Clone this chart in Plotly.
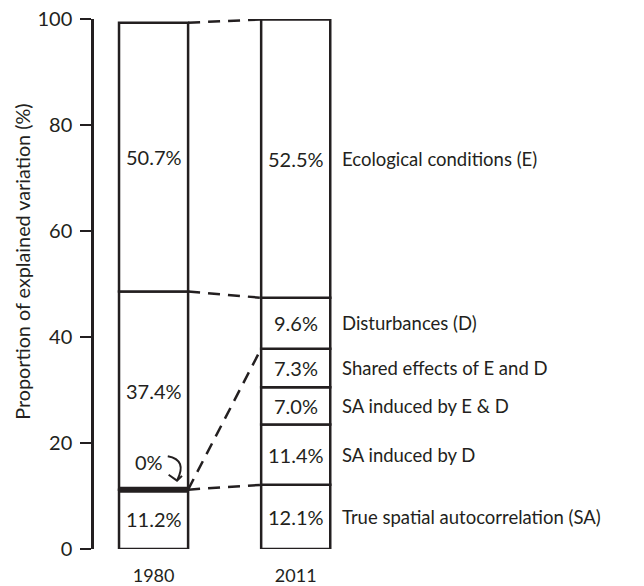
import plotly.graph_objects as go

# ---------------- data ----------------
years = ["1980", "2011"]
components_2011 = [
    "True spatial autocorrelation (SA)",
    "SA induced by D",
    "SA induced by E & D",
    "Shared effects of E and D",
    "Disturbances (D)",
    "Ecological conditions (E)",
]
# 1980 partition, bottom to top: SA, (SA induced by E&D = 0%), D-related, E
vals_1980 = [11.2, 0.0, 37.4, 50.7]
labels_1980 = ["11.2%", "0%", "37.4%", "50.7%"]
# 2011 partition, bottom to top
vals_2011 = [12.1, 11.4, 7.0, 7.3, 9.6, 52.5]
labels_2011 = ["12.1%", "11.4%", "7.0%", "7.3%", "9.6%", "52.5%"]
y_ticks = [0, 20, 40, 60, 80, 100]
y_title = "Proportion of explained variation (%)"

# ---------------- style ----------------
DARK = "#231f20"
FONT = "Lato"
FS_NUM = 20
FS_TXT = 18.5
FS_TITLE = 19.8
W = 0.486          # bar width (x units)
X0, X1 = 0, 1      # bar positions
LW = 2.5
DASH = "12px,8px"
ML, MR, MT, MB = 94, 64, 19, 37
FIG_W, FIG_H = 644, 586


def bases(vals):
    out, c = [], 0.0
    for v in vals:
        out.append(c)
        c += v
    return out


b80 = bases(vals_1980)
b11 = bases(vals_2011)
top80 = b80[-1] + vals_1980[-1]
top11 = b11[-1] + vals_2011[-1]

fig = go.Figure()

# bars (white boxes with outlines), zero-height segment drawn separately
for x, vals, bs in [(X0, vals_1980, b80), (X1, vals_2011, b11)]:
    nz = [(v, b) for v, b in zip(vals, bs) if v > 0]
    fig.add_trace(go.Bar(
        x=[x] * len(nz), y=[v for v, _ in nz], base=[b for _, b in nz],
        width=W, marker=dict(color="white", line=dict(color=DARK, width=LW)),
        cliponaxis=False, showlegend=False, hoverinfo="skip"))

# thick line for the 0% segment in 1980
zero_idx = vals_1980.index(0.0)
yz = b80[zero_idx]
fig.add_trace(go.Scatter(
    x=[X0 - W / 2, X0 + W / 2], y=[yz, yz], mode="lines",
    line=dict(color=DARK, width=6), cliponaxis=False,
    showlegend=False, hoverinfo="skip"))

# dashed connectors between the bars
xa, xb = X0 + W / 2, X1 - W / 2
connectors = [
    (top80, top11),                      # top
    (b80[3], b11[5]),                    # E boundary
    (yz, b11[4]),                        # D-related block -> shared/ D boundary
    (b80[1], b11[1]),                    # SA boundary
]
for ya, yb in connectors:
    fig.add_trace(go.Scatter(
        x=[xa, xb], y=[ya, yb], mode="lines",
        line=dict(color=DARK, width=LW, dash=DASH), cliponaxis=False,
        showlegend=False, hoverinfo="skip"))

annotations = []
# labels inside 1980 bar
for v, b, lab in zip(vals_1980, b80, labels_1980):
    if v == 0:
        continue
    annotations.append(dict(x=X0, y=b + v / 2, text=lab, showarrow=False,
                            xref="x", yref="y",
                            font=dict(family=FONT, size=FS_NUM, color=DARK)))
# 0% label above the thick line
annotations.append(dict(x=X0 - 0.03, y=yz + 5.3, text=labels_1980[zero_idx],
                        showarrow=False, xref="x", yref="y",
                        font=dict(family=FONT, size=FS_NUM, color=DARK)))
# labels inside 2011 bar and component names to the right
for v, b, lab, comp in zip(vals_2011, b11, labels_2011, components_2011):
    annotations.append(dict(x=X1, y=b + v / 2, text=lab, showarrow=False,
                            xref="x", yref="y",
                            font=dict(family=FONT, size=FS_NUM, color=DARK)))
    annotations.append(dict(x=X1 + W / 2, y=b + v / 2, text=comp, showarrow=False,
                            xref="x", yref="y", xanchor="left", xshift=10,
                            font=dict(family=FONT, size=FS_TXT, color=DARK)))

# y-axis title as rotated annotation
plot_w = FIG_W - ML - MR
annotations.append(dict(x=(22 - ML) / plot_w, xref="paper", y=54.2, yref="y",
                        text=y_title, textangle=-90, showarrow=False,
                        xanchor="center", yanchor="middle",
                        font=dict(family=FONT, size=FS_TITLE, color=DARK)))

# curved arrow from "0%" to the thick line
tipx, tipy = X0 + 0.165, yz + 1.7
shapes = [
    dict(type="path", xref="x", yref="y",
         path=f"M {X0 + 0.10},{yz + 6.3} Q {X0 + 0.24},{yz + 5.6} {tipx},{tipy}",
         line=dict(color=DARK, width=2)),
    dict(type="path", xref="x", yref="y",
         path=f"M {tipx - 0.059},{tipy + 1.1} L {tipx},{tipy} L {tipx + 0.035},{tipy + 0.9}",
         line=dict(color=DARK, width=2)),
]

fig.update_layout(
    width=FIG_W, height=FIG_H,
    margin=dict(l=ML, r=MR, t=MT, b=MB),
    paper_bgcolor="white", plot_bgcolor="white",
    barmode="overlay",
    font=dict(family=FONT, size=FS_NUM, color=DARK),
    annotations=annotations, shapes=shapes,
    xaxis=dict(range=[-0.419, 3.0], tickvals=[X0, X1], ticktext=years,
               showline=False, showgrid=False, zeroline=False, ticks="",
               ticklabelstandoff=14, automargin=False,
               tickfont=dict(family=FONT, size=FS_NUM - 2, color=DARK)),
    yaxis=dict(range=[0, 100], tickvals=y_ticks, ticks="outside", ticklen=11,
               tickwidth=2, tickcolor=DARK, showline=True, linewidth=LW,
               linecolor=DARK, showgrid=False, zeroline=False,
               ticklabelstandoff=4, automargin=False,
               tickfont=dict(family=FONT, size=FS_NUM, color=DARK)),
)

fig.write_html("out.html", config={"displayModeBar": False},
               post_script="document.body.style.margin='0px';document.body.style.overflow='hidden';")
